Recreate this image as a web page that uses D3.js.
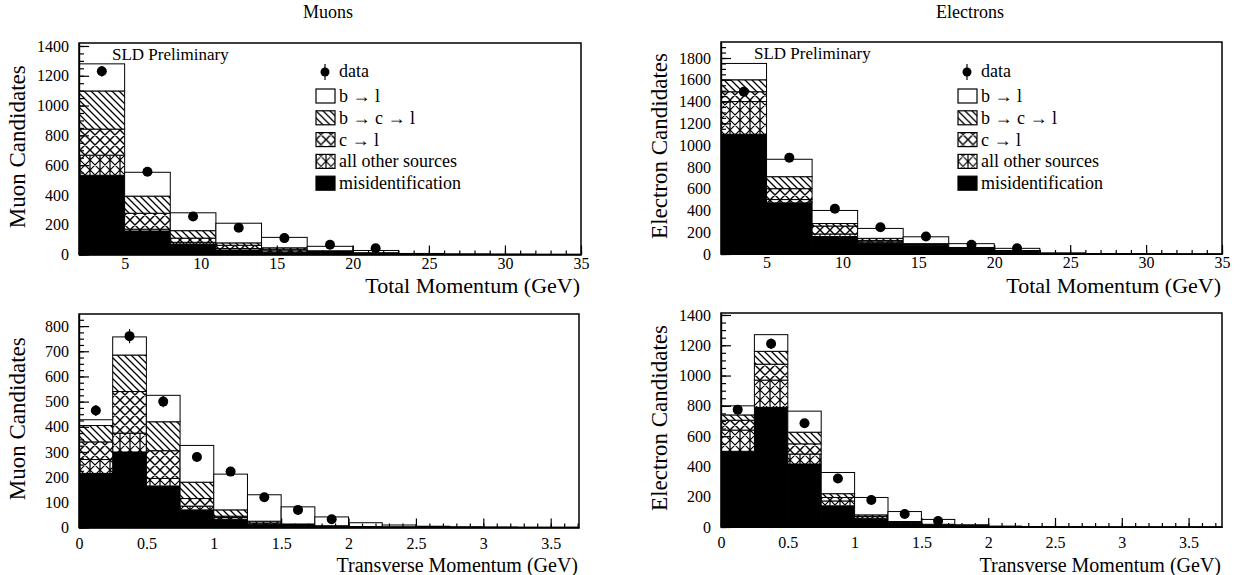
<!DOCTYPE html>
<html>
<head>
<meta charset="utf-8">
<script src="https://cdn.jsdelivr.net/npm/d3@7"></script>
<style>
body { margin: 0; background: #fff; }
svg { font-family: "Liberation Serif", "Times New Roman", serif; }
</style>
</head>
<body>
<div id="chart"></div>
<script>
// stack order, bottom to top
var components = ["misid", "other", "ctol", "bctol", "btol"];
var legendKeys = ["btol", "bctol", "ctol", "other", "misid"];
var legendLabels = ["b \u2192 l", "b \u2192 c \u2192 l", "c \u2192 l", "all other sources", "misidentification"];

// bin edges
var pEdges = [2, 5, 8, 11, 14, 17, 20, 23, 26, 29, 32, 35];
var ptEdges = [0, 0.25, 0.5, 0.75, 1, 1.25, 1.5, 1.75, 2, 2.25, 2.5, 2.75, 3, 3.25, 3.5, 3.75];

// tick values
var pTicks = [5, 10, 15, 20, 25, 30, 35];
var ptTicks = [0, 0.5, 1, 1.5, 2, 2.5, 3, 3.5];
var muPyTicks = [0, 200, 400, 600, 800, 1000, 1200, 1400];
var elPyTicks = [0, 200, 400, 600, 800, 1000, 1200, 1400, 1600, 1800];
var muPtyTicks = [0, 100, 200, 300, 400, 500, 600, 700, 800];
var elPtyTicks = [0, 200, 400, 600, 800, 1000, 1200, 1400];

// muons, total momentum
var muP_misid = [532, 158, 70, 30, 15, 8, 4, 1, 0, 0, 0];
var muP_other = [135, 12, 12, 10, 10, 4, 2, 1, 1, 0, 0];
var muP_ctol = [175, 107, 28, 22, 10, 6, 3, 1, 0, 1, 0];
var muP_bctol = [256, 115, 50, 16, 10, 7, 3, 1, 1, 0, 1];
var muP_btol = [182, 160, 120, 132, 70, 30, 15, 3, 1, 1, 0];
var muP_data = [1230, 555, 255, 180, 110, 65, 42];
var muP_err = [35, 24, 16, 13, 10, 8, 7];

// electrons, total momentum
var elP_misid = [1100, 470, 160, 100, 75, 37, 18, 3, 1, 0, 0];
var elP_other = [300, 30, 24, 12, 5, 5, 4, 1, 0, 0, 0];
var elP_ctol = [90, 100, 73, 13, 8, 8, 4, 1, 1, 1, 0];
var elP_bctol = [110, 110, 23, 19, 7, 10, 6, 1, 0, 0, 0];
var elP_btol = [150, 160, 120, 91, 63, 35, 20, 4, 2, 1, 1];
var elP_data = [1490, 885, 415, 245, 160, 85, 52];
var elP_err = [40, 30, 20, 16, 13, 9, 7];

// muons, transverse momentum
var muPt_misid = [215, 300, 165, 70, 33, 10, 5, 2, 1, 0, 0, 0, 0, 0, 0];
var muPt_other = [55, 75, 30, 15, 7, 3, 2, 1, 1, 1, 0, 0, 0, 0, 0];
var muPt_ctol = [70, 165, 110, 30, 5, 5, 3, 2, 1, 1, 1, 0, 0, 0, 0];
var muPt_bctol = [65, 145, 115, 65, 25, 7, 4, 2, 1, 1, 0, 1, 0, 0, 0];
var muPt_btol = [23, 72, 105, 146, 142, 105, 68, 35, 15, 7, 4, 2, 2, 1, 1];
var muPt_data = [465, 760, 500, 280, 222, 120, 70, 33];
var muPt_err = [22, 28, 22, 17, 15, 11, 9, 6];

// electrons, transverse momentum
var elPt_misid = [500, 790, 416, 140, 50, 20, 8, 3, 1, 0, 0, 0, 0, 0, 0];
var elPt_other = [140, 180, 66, 32, 8, 4, 2, 1, 0, 0, 0, 0, 0, 0, 0];
var elPt_ctol = [65, 105, 67, 23, 12, 6, 4, 2, 1, 1, 0, 0, 0, 0, 0];
var elPt_bctol = [35, 85, 77, 25, 10, 6, 4, 2, 1, 0, 1, 0, 0, 0, 0];
var elPt_btol = [60, 110, 139, 140, 115, 66, 32, 7, 3, 2, 1, 1, 1, 1, 1];
var elPt_data = [775, 1210, 685, 320, 178, 86, 40];
var elPt_err = [28, 35, 26, 18, 13, 9, 6];

var panels = [
    { id: "tl", x0: 79, x1: 581, y0: 43, y1: 254.5, xDom: [2, 35], yDom: [0, 1420],
      edges: pEdges, xTicks: pTicks, xMinor: 1, yTicks: muPyTicks, yMinor: 50, labPad: 3,
      series: [muP_misid, muP_other, muP_ctol, muP_bctol, muP_btol], data: muP_data, err: muP_err,
      yTitle: "Muon Candidates", xTitle: "Total Momentum (GeV)", xTitleY: 38.5, xTitleSize: 22,
      legend: true, sld: true },
    { id: "tr", x0: 721, x1: 1222, y0: 42, y1: 254, xDom: [2, 35], yDom: [0, 1947],
      edges: pEdges, xTicks: pTicks, xMinor: 1, yTicks: elPyTicks, yMinor: 50, labPad: 3,
      series: [elP_misid, elP_other, elP_ctol, elP_bctol, elP_btol], data: elP_data, err: elP_err,
      yTitle: "Electron Candidates", xTitle: "Total Momentum (GeV)", xTitleY: 39, xTitleSize: 22,
      legend: true, sld: true },
    { id: "bl", x0: 79, x1: 579, y0: 314, y1: 527.5, xDom: [0, 3.71], yDom: [0, 848],
      edges: ptEdges, xTicks: ptTicks, xMinor: 0.1, yTicks: muPtyTicks, yMinor: 25, labPad: 10,
      series: [muPt_misid, muPt_other, muPt_ctol, muPt_bctol, muPt_btol], data: muPt_data, err: muPt_err,
      yTitle: "Muon Candidates", xTitle: "Transverse Momentum (GeV)", xTitleY: 44, xTitleSize: 20 },
    { id: "br", x0: 721, x1: 1222, y0: 313, y1: 527, xDom: [0, 3.75], yDom: [0, 1413],
      edges: ptEdges, xTicks: ptTicks, xMinor: 0.1, yTicks: elPtyTicks, yMinor: 50, labPad: 10,
      series: [elPt_misid, elPt_other, elPt_ctol, elPt_bctol, elPt_btol], data: elPt_data, err: elPt_err,
      yTitle: "Electron Candidates", xTitle: "Transverse Momentum (GeV)", xTitleY: 44.5, xTitleSize: 20 }
];

var svg = d3.select("#chart")
    .append("svg")
    .attr("width", 1240)
    .attr("height", 575)
    .style("background-color", "#fff");

var defs = svg.append("defs");

function addPattern(id, s, d, sw) {
    var p = defs.append("pattern")
        .attr("id", id)
        .attr("patternUnits", "userSpaceOnUse")
        .attr("width", s)
        .attr("height", s);
    p.append("rect").attr("width", s).attr("height", s).attr("fill", "#fff");
    p.append("path").attr("d", d).attr("stroke", "#000").attr("stroke-width", sw).attr("fill", "none");
}

function back(s) {
    return "M0,0L" + s + "," + s + "M-1," + (s - 1) + "L1," + (s + 1) + "M" + (s - 1) + ",-1L" + (s + 1) + ",1";
}
function fwd(s) {
    return "M0," + s + "L" + s + ",0M-1,1L1,-1M" + (s - 1) + "," + (s + 1) + "L" + (s + 1) + "," + (s - 1);
}

addPattern("hatch", 7, back(7), 1.3);
addPattern("cross", 10, back(10) + fwd(10), 1.4);
addPattern("other", 10, back(10) + fwd(10) + "M0,0L0,10M10,0L10,10", 1.2);

var fills = { misid: "#000", other: "url(#other)", ctol: "url(#cross)", bctol: "url(#hatch)", btol: "#fff" };

// titles
svg.append("text").attr("x", 328).attr("y", 18).attr("text-anchor", "middle")
    .style("font-size", "18px").text("Muons");
svg.append("text").attr("x", 970).attr("y", 18).attr("text-anchor", "middle")
    .style("font-size", "18px").text("Electrons");

panels.forEach(function (p) {
    var x = d3.scaleLinear().domain(p.xDom).range([p.x0, p.x1]);
    var y = d3.scaleLinear().domain(p.yDom).range([p.y1, p.y0]);

    var g = svg.append("g");

    defs.append("clipPath").attr("id", "clip-" + p.id)
        .append("rect")
        .attr("x", p.x0).attr("y", p.y0)
        .attr("width", p.x1 - p.x0).attr("height", p.y1 - p.y0);

    // stacked histogram
    var rows = p.series[0].map(function (v, i) {
        var r = { lo: p.edges[i], hi: p.edges[i + 1] };
        components.forEach(function (c, k) { r[c] = p.series[k][i]; });
        return r;
    });
    var stacked = d3.stack().keys(components)(rows);

    var hist = g.append("g").attr("clip-path", "url(#clip-" + p.id + ")");
    stacked.forEach(function (layer) {
        hist.selectAll(null)
            .data(layer.filter(function (d) { return d[1] - d[0] > 0; }))
            .enter()
            .append("rect")
            .attr("x", function (d) { return x(d.data.lo); })
            .attr("width", function (d) { return x(d.data.hi) - x(d.data.lo); })
            .attr("y", function (d) { return y(d[1]); })
            .attr("height", function (d) { return y(d[0]) - y(d[1]); })
            .attr("fill", fills[layer.key])
            .attr("stroke", "#000")
            .attr("stroke-width", 1);
    });

    // data points
    var pts = p.data.map(function (v, i) {
        return { x: (p.edges[i] + p.edges[i + 1]) / 2, v: v, e: p.err[i] };
    });
    g.selectAll("line.err")
        .data(pts)
        .enter()
        .append("line")
        .attr("class", "err")
        .attr("x1", function (d) { return x(d.x); })
        .attr("x2", function (d) { return x(d.x); })
        .attr("y1", function (d) { return y(d.v - d.e); })
        .attr("y2", function (d) { return y(d.v + d.e); })
        .attr("stroke", "#000")
        .attr("stroke-width", 1.2);
    g.selectAll("circle.pt")
        .data(pts)
        .enter()
        .append("circle")
        .attr("class", "pt")
        .attr("cx", function (d) { return x(d.x); })
        .attr("cy", function (d) { return y(d.v); })
        .attr("r", 5)
        .attr("fill", "#000");

    // axes, ticks pointing inward
    var xMinorTicks = d3.range(p.xDom[0], p.xDom[1] + 1e-9, p.xMinor);
    var yMinorTicks = d3.range(p.yDom[0], p.yDom[1], p.yMinor);

    g.append("g")
        .attr("transform", "translate(0," + p.y1 + ")")
        .call(d3.axisBottom(x).tickValues(xMinorTicks).tickSize(-4).tickSizeOuter(0).tickFormat(""));
    g.append("g")
        .attr("class", "xax")
        .attr("transform", "translate(0," + p.y1 + ")")
        .call(d3.axisBottom(x).tickValues(p.xTicks).tickSize(-9).tickSizeOuter(0)
            .tickPadding(p.labPad).tickFormat(function (d) { return String(d); }));
    g.append("g")
        .attr("transform", "translate(" + p.x0 + ",0)")
        .call(d3.axisLeft(y).tickValues(yMinorTicks).tickSize(-5).tickSizeOuter(0).tickFormat(""));
    g.append("g")
        .attr("class", "yax")
        .attr("transform", "translate(" + p.x0 + ",0)")
        .call(d3.axisLeft(y).tickValues(p.yTicks).tickSize(-10).tickSizeOuter(0).tickPadding(10)
            .tickFormat(d3.format("d")));

    g.selectAll(".tick text")
        .style("font-family", "'Liberation Serif', serif")
        .style("font-size", "16px")
        .attr("fill", "#000");
    g.selectAll(".domain, .tick line").attr("stroke", "#000").attr("stroke-width", 1.2);

    // frame
    g.append("rect")
        .attr("x", p.x0).attr("y", p.y0)
        .attr("width", p.x1 - p.x0).attr("height", p.y1 - p.y0)
        .attr("fill", "none")
        .attr("stroke", "#000")
        .attr("stroke-width", 1.5);

    // axis titles
    g.append("text")
        .attr("text-anchor", "middle")
        .attr("transform", "translate(" + (p.x0 - 54) + "," + ((p.y0 + p.y1) / 2 - 2) + ") rotate(-90)")
        .style("font-size", "23px")
        .text(p.yTitle);
    g.append("text")
        .attr("text-anchor", "end")
        .attr("x", p.x1 - 1)
        .attr("y", p.y1 + p.xTitleY)
        .style("font-size", p.xTitleSize + "px")
        .text(p.xTitle);

    if (p.sld) {
        g.append("text")
            .attr("x", p.x0 + 33)
            .attr("y", p.y0 + 17)
            .style("font-size", "17px")
            .text("SLD Preliminary");
    }

    if (p.legend) {
        var lx = p.x0 + 237, ly = 72;
        var leg = g.append("g");
        leg.append("line")
            .attr("x1", lx + 9).attr("x2", lx + 9)
            .attr("y1", ly - 8).attr("y2", ly + 8)
            .attr("stroke", "#000").attr("stroke-width", 1.2);
        leg.append("circle").attr("cx", lx + 9).attr("cy", ly).attr("r", 4.5).attr("fill", "#000");
        leg.append("text").attr("x", lx + 23).attr("y", ly + 5).style("font-size", "18px").text("data");

        var items = leg.selectAll("g.item")
            .data(legendKeys)
            .enter()
            .append("g")
            .attr("class", "item")
            .attr("transform", function (d, i) { return "translate(" + lx + "," + (ly + 24 + i * 21.8) + ")"; });
        items.append("rect")
            .attr("x", 0).attr("y", -7)
            .attr("width", 19).attr("height", 14)
            .attr("fill", function (d) { return fills[d]; })
            .attr("stroke", "#000")
            .attr("stroke-width", 1.2);
        items.append("text")
            .attr("x", 23).attr("y", 6)
            .style("font-size", "18px")
            .text(function (d, i) { return legendLabels[i]; });
    }
});
</script>
</body>
</html>
